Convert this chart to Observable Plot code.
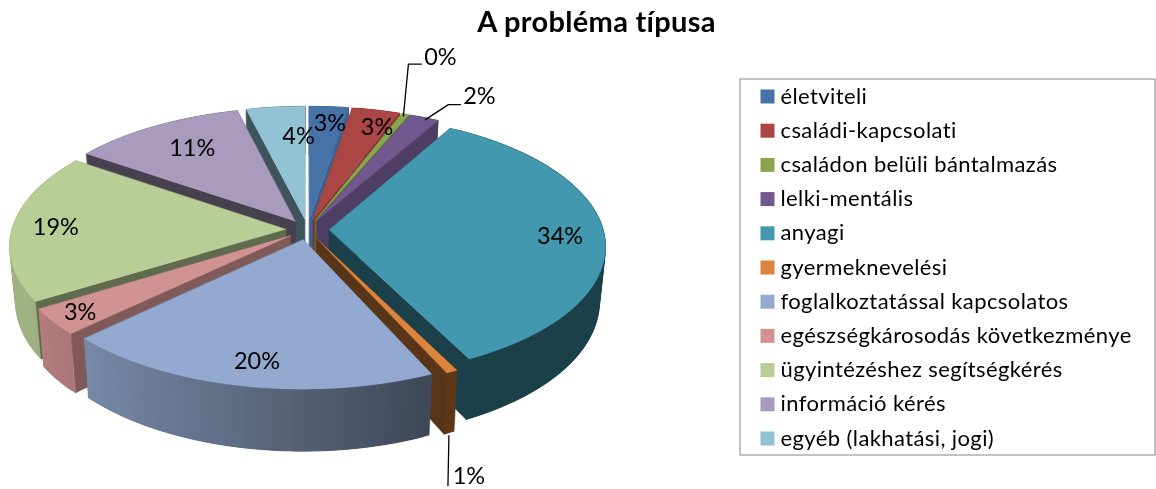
<!DOCTYPE html>
<html>
<head>
<meta charset="utf-8">
<script src="https://cdn.jsdelivr.net/npm/d3@7"></script>
<script src="https://cdn.jsdelivr.net/npm/@observablehq/plot@0.6"></script>
<style>
html,body{margin:0;padding:0;background:#fff}
svg{display:block;filter:blur(0.3px)}
.legend-text text{letter-spacing:.4px}
.title-text text{letter-spacing:.3px}
</style>
</head>
<body>
<div id="chart"></div>
<script>
const chartTitle = "A probléma típusa";
const categories = ["életviteli","családi-kapcsolati","családon belüli bántalmazás","lelki-mentális","anyagi","gyermeknevelési","foglalkoztatással kapcsolatos","egészségkárosodás következménye","ügyintézéshez segítségkérés","információ kérés","egyéb (lakhatási, jogi)"];
const shares = [2.6,3.2,0.5,1.95,34.35,0.6,19.7,3.3,18.4,11.5,3.9];
const percentLabels = ["3%","3%","0%","2%","34%","1%","20%","3%","19%","11%","4%"];
const colors = ["#4672A8","#AA4643","#89A54E","#71588F","#4198AF","#DB843D","#93A9CF","#D19392","#B9CD96","#A99BBD","#91C3D5"];
const faceShade = [0.85,0.75,0.7,0.7,0.42,0.4,0.5,0.61,0.52,0.42,0.43];
const labelNudgeX = [1,1,35,55,-44,17,14,27,43,37,23];
const labelNudgeY = [17,17,-57,-21,3,105,-25,-9,1,22,29];
const leaderNudges = {2:[[-2,2],[3,-50],[16,-50]],3:[[1,2],[24,-13],[36,-13]],5:[[-3,64],[-4,114]]};

const W = 1156, H = 489;
const FONT = "Lato";
const cx = 307, cy = 229, R = 274, A = 129, K = 0.12, EXPL = 0.079, DEPTH = 54, VX = 300, SHRINK = 0.98;

function project(u, v, low) {
  const f = 1 / (1 - K * v);
  let x = cx + R * u * f, y = cy + A * v * f;
  if (low) { x = VX + (x - VX) * SHRINK; y += DEPTH * f; }
  return [x, y];
}
function shadeColor(c, s) {
  const q = d3.rgb(c);
  return d3.rgb(q.r * s, q.g * s, q.b * s).formatHex();
}
const total = d3.sum(shares);
let acc = 0;
const slices = shares.map((s, i) => {
  const a0 = acc / total * 2 * Math.PI; acc += s;
  const a1 = acc / total * 2 * Math.PI;
  const mid = (a0 + a1) / 2;
  return {i, a0, a1, mid, ex: EXPL * Math.sin(mid), ey: -EXPL * Math.cos(mid)};
});
const polys = [];
let pid = 0;
function addPoly(points, color) {
  const id = pid++;
  for (const [x, y] of points) polys.push({x, y, id, color});
}
const order = slices.slice().sort((a, b) => a.ey - b.ey);
for (const s of order) {
  const c = colors[s.i];
  const rim = a => [s.ex + Math.sin(a), s.ey - Math.cos(a)];
  const n = Math.max(2, Math.ceil((s.a1 - s.a0) / 0.02));
  const angles = d3.range(n + 1).map(k => s.a0 + (s.a1 - s.a0) * k / n);
  const face = shadeColor(c, faceShade[s.i]);
  const back = s.ey < 0;
  const drawOuter = () => {
    for (let k = 0; k < n; k++) {
      const [u0, v0] = rim(angles[k]), [u1, v1] = rim(angles[Math.min(n, k + 3)]);
      const t = Math.sin((angles[k] + angles[k + 1]) / 2);
      let sh = Math.min(0.87, Math.max(0.42, 0.82 - 0.342 * (t + 0.75)));
      if (back) sh = Math.max(sh, faceShade[s.i]);
      addPoly([project(u0, v0), project(u1, v1), project(u1, v1, true), project(u0, v0, true)], shadeColor(c, sh));
    }
  };
  const drawFaces = () => {
    const faceAngles = [s.a0, s.a1].sort((p, q) => rim(p)[1] - rim(q)[1]);
    for (const a of faceAngles) {
      const [u, v] = rim(a);
      addPoly([project(s.ex, s.ey), project(u, v), project(u, v, true), project(s.ex, s.ey, true)], face);
    }
  };
  if (back) { drawOuter(); drawFaces(); } else { drawFaces(); drawOuter(); }
  addPoly([project(s.ex, s.ey), ...angles.map(a => project(...rim(a)))], c);
}
function anchor(s) {
  const d = 1 + EXPL;
  return project(d * Math.sin(s.mid), -d * Math.cos(s.mid));
}
const labelRows = slices.map(s => {
  const [x, y] = anchor(s);
  return {x: x + labelNudgeX[s.i], y: y + labelNudgeY[s.i], text: percentLabels[s.i]};
});
const leaderRows = Object.entries(leaderNudges).flatMap(([i, pts]) => {
  const [x, y] = anchor(slices[+i]);
  return pts.map(([dx, dy]) => ({x: x + dx, y: y + dy, id: i}));
});

// legend
const legendLeft = 740, legendTop = 79, legendBottom = 455, legendRight = 1155;
const rowTop = 96, rowStep = 34.2;
const legendRows = categories.map((name, i) => ({name, color: colors[i], y: rowTop + i * rowStep}));

const plot = Plot.plot({
  width: W, height: H, margin: 0,
  x: {domain: [0, W], range: [0, W], axis: null},
  y: {domain: [0, H], range: [0, H], axis: null},
  color: {type: "identity"},
  style: {background: "#fff", fontFamily: FONT},
  marks: [
    Plot.line(polys, {x: "x", y: "y", z: "id", fill: "color", stroke: "color", strokeWidth: 0.3, curve: "linear-closed"}),
    Plot.line(leaderRows, {x: "x", y: "y", z: "id", stroke: "#000", strokeWidth: 1.3}),
    Plot.text(labelRows, {x: "x", y: "y", text: "text", fontSize: 23.5, fontFamily: FONT, fill: "#000", lineAnchor: "middle"}),
    Plot.text([chartTitle], {x: () => 596, y: () => 22, text: d => d, fontSize: 29, fontWeight: "bold", fontFamily: FONT, fill: "#000", lineAnchor: "middle", className: "title-text"}),
    Plot.rect([0], {x1: () => legendLeft, x2: () => legendRight, y1: () => legendTop, y2: () => legendBottom, fill: "none", stroke: "#868686", strokeWidth: 1}),
    Plot.dot(legendRows, {x: () => 767, y: "y", symbol: "square", r: 7.9, fill: "color", stroke: "none"}),
    Plot.text(legendRows, {x: () => 780, y: "y", text: "name", textAnchor: "start", lineAnchor: "middle", fontSize: 22, fontFamily: FONT, fill: "#000", className: "legend-text"})
  ]
});
document.getElementById("chart").append(plot);
</script>
</body>
</html>
